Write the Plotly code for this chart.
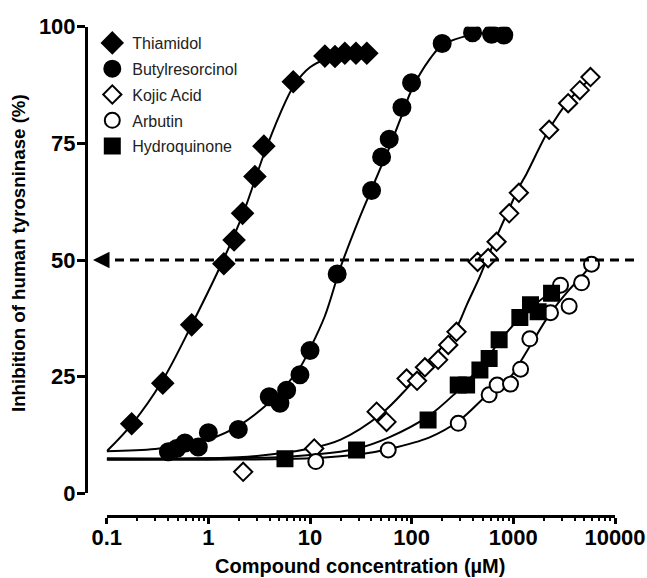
import plotly.graph_objects as go

# ---------------- data ----------------
thiamidol_x = [0.176, 0.356, 0.685, 1.42, 1.79, 2.17, 2.87, 3.52, 6.84, 14.0, 17.6, 22.0, 28.3, 36.2]
thiamidol_y = [14.9, 23.6, 36.1, 49.2, 54.3, 60.0, 67.9, 74.4, 88.2, 93.7, 93.6, 94.3, 94.3, 94.3]

butyl_x = [0.404, 0.488, 0.589, 0.796, 1.0, 1.97, 3.97, 5.06, 5.89, 7.96, 10.0, 18.5,
           40.3, 50.6, 60.1, 80.2, 99.7, 199.5, 397, 611, 806]
butyl_y = [8.9, 9.6, 10.8, 9.9, 13.0, 13.7, 20.7, 19.3, 22.1, 25.4, 30.6, 47.0,
           64.9, 72.1, 75.9, 82.7, 88.0, 96.4, 98.7, 98.4, 98.2]

kojic_x = [2.20, 11.0, 45.2, 56.6, 89.1, 113, 135, 182, 229, 276, 445, 565, 684, 910,
           1133, 2250, 3460, 4510, 5740]
kojic_y = [4.6, 9.6, 17.5, 15.3, 24.6, 24.1, 27.0, 28.6, 31.8, 34.6, 49.6, 50.4, 53.9, 60.0,
           64.4, 77.9, 83.6, 86.4, 89.2]

arbutin_x = [11.4, 58.8, 287, 578, 693, 938, 1178, 1452, 2322, 2911, 3540, 4690, 5875]
arbutin_y = [6.8, 9.3, 15.0, 21.1, 23.2, 23.4, 26.6, 33.1, 38.7, 44.6, 40.1, 45.1, 49.1]

hydro_x = [5.67, 28.7, 145, 287, 347, 469, 578, 725, 1159, 1476, 1754, 2376]
hydro_y = [7.4, 9.3, 15.7, 23.2, 23.2, 26.4, 28.9, 32.9, 37.7, 40.4, 38.9, 42.9]

# fitted curves
thiamidol_fit_x = [0.1, 0.18, 0.35, 0.7, 1.4, 2.2, 3.5, 5, 7, 10, 15, 25, 37]
thiamidol_fit_y = [9.0, 15.0, 24.0, 36.5, 50.0, 60.0, 72.5, 81.0, 87.5, 91.3, 93.2, 94.1, 94.3]

butyl_fit_x = [0.1, 0.3, 0.6, 1, 2, 4, 6, 8, 10, 14, 20, 30, 40, 50, 60, 80, 100, 150, 200, 400, 810]
butyl_fit_y = [9.0, 9.5, 10.4, 11.5, 14.5, 19.5, 23.5, 27.0, 31.0, 38.0, 48.5, 58.5, 65.0, 70.0,
               74.0, 81.0, 86.5, 93.0, 96.0, 98.3, 98.7]

kojic_fit_x = [0.1, 1, 3, 10, 20, 50, 90, 135, 200, 276, 350, 469, 545, 684, 910, 1133, 1350,
               2250, 3460, 5800]
kojic_fit_y = [7.3, 7.5, 8.0, 9.6, 11.5, 17.0, 22.5, 27.0, 31.5, 35.5, 40.5, 46.5, 50.0, 55.0,
               61.0, 65.5, 68.5, 78.0, 84.0, 89.0]

arbutin_fit_x = [0.1, 1, 10, 30, 60, 150, 290, 580, 940, 1200, 1500, 2300, 3500, 4700, 5900]
arbutin_fit_y = [7.2, 7.2, 7.5, 8.3, 9.5, 12.0, 15.5, 21.5, 25.0, 28.5, 32.0, 38.5, 43.5, 46.5, 49.0]

hydro_fit_x = [0.1, 1, 5.7, 10, 28, 60, 145, 270, 350, 470, 580, 725, 1160, 1750, 2700]
hydro_fit_y = [7.5, 7.5, 7.8, 8.2, 9.5, 12.0, 16.5, 21.5, 24.0, 27.0, 29.5, 32.5, 37.5, 41.0, 44.0]

x_tickvals = [0.1, 1, 10, 100, 1000, 10000]
x_ticktext = ["0.1", "1", "10", "100", "1000", "10000"]
y_tickvals = [0, 25, 50, 75, 100]
y_ticktext = ["0", "25", "50", "75", "100"]
half_level = 50

# ---------------- figure ----------------
W, H = 647, 578
FONT = "Liberation Sans, Arial, sans-serif"


def px(v):
    return v / W


def py(v):
    return 1 - v / H


fig = go.Figure()

curves = [
    (thiamidol_fit_x, thiamidol_fit_y),
    (butyl_fit_x, butyl_fit_y),
    (kojic_fit_x, kojic_fit_y),
    (arbutin_fit_x, arbutin_fit_y),
    (hydro_fit_x, hydro_fit_y),
]
for cx, cy in curves:
    fig.add_trace(go.Scatter(x=cx, y=cy, mode="lines", showlegend=False, hoverinfo="skip",
                             line=dict(color="black", width=2, shape="spline", smoothing=1.0)))

series = [
    ("Thiamidol", thiamidol_x, thiamidol_y, "diamond", "black", 16),
    ("Butylresorcinol", butyl_x, butyl_y, "circle", "black", 17),
    ("Kojic Acid", kojic_x, kojic_y, "diamond", "white", 14),
    ("Arbutin", arbutin_x, arbutin_y, "circle", "white", 15),
    ("Hydroquinone", hydro_x, hydro_y, "square", "black", 15),
]
for name, sx, sy, sym, fill, size in series:
    fig.add_trace(go.Scatter(
        x=sx, y=sy, mode="markers", name=name, legendgroup=name,
        marker=dict(symbol=sym, color=fill, size=size, line=dict(color="black", width=2)),
    ))

# dashed 50% line and arrow head
fig.add_shape(type="line", xref="paper", yref="y", x0=px(100), x1=px(636),
              y0=half_level, y1=half_level, line=dict(color="black", width=3, dash="9px,6px"))
fig.add_annotation(x=px(93), y=half_level, xref="paper", yref="y", text="",
                   showarrow=True, ax=14, ay=0, arrowhead=2, arrowsize=1.1,
                   arrowwidth=3, arrowcolor="black", standoff=0)

# axis titles
fig.add_annotation(text="Inhibition of human tyrosninase (%)", textangle=-90,
                   xref="paper", yref="paper", x=px(18.5), y=py(253.5),
                   xanchor="center", yanchor="middle", showarrow=False,
                   font=dict(family=FONT, size=18.7, color="black", weight="bold"))
fig.add_annotation(text="Compound concentration (µM)",
                   xref="paper", yref="paper", x=px(360), y=py(565.5),
                   xanchor="center", yanchor="middle", showarrow=False,
                   font=dict(family=FONT, size=20, color="black", weight="bold"))

fig.update_layout(
    width=W, height=H,
    margin=dict(l=0, r=0, t=0, b=0),
    paper_bgcolor="white", plot_bgcolor="white",
    font=dict(family=FONT, color="black"),
    xaxis=dict(
        type="log", range=[-1, 4], domain=[px(106.7), px(615)],
        anchor="free", position=py(516),
        showgrid=False, zeroline=False, showline=True, linecolor="black", linewidth=3,
        ticks="outside", ticklen=6, tickwidth=2.5, tickcolor="black",
        tickvals=x_tickvals, ticktext=x_ticktext, ticklabelstandoff=-5,
        tickfont=dict(family=FONT, size=22, color="black", weight="bold"),
        minor=dict(ticks="outside", ticklen=3, tickwidth=2, tickcolor="black", dtick="D1", showgrid=False),
        automargin=False,
    ),
    yaxis=dict(
        range=[0, 100], domain=[py(493.3), py(26.7)],
        anchor="free", position=px(86),
        showgrid=False, zeroline=False, showline=True, linecolor="black", linewidth=3,
        ticks="outside", ticklen=8, tickwidth=2.5, tickcolor="black",
        tickvals=y_tickvals, ticktext=y_ticktext, ticklabelstandoff=-3,
        tickfont=dict(family=FONT, size=22, color="black", weight="bold"),
        automargin=False,
    ),
    legend=dict(
        x=px(92.3), y=py(26), xanchor="left", yanchor="top",
        bgcolor="rgba(0,0,0,0)", borderwidth=0,
        font=dict(family=FONT, size=16, color="#222"),
        tracegroupgap=2, traceorder="grouped",
    ),
    showlegend=True,
)

fig.write_html(
    "out.html",
    config={"displayModeBar": False},
    post_script="document.body.style.margin='0';document.body.style.overflow='hidden';",
)
